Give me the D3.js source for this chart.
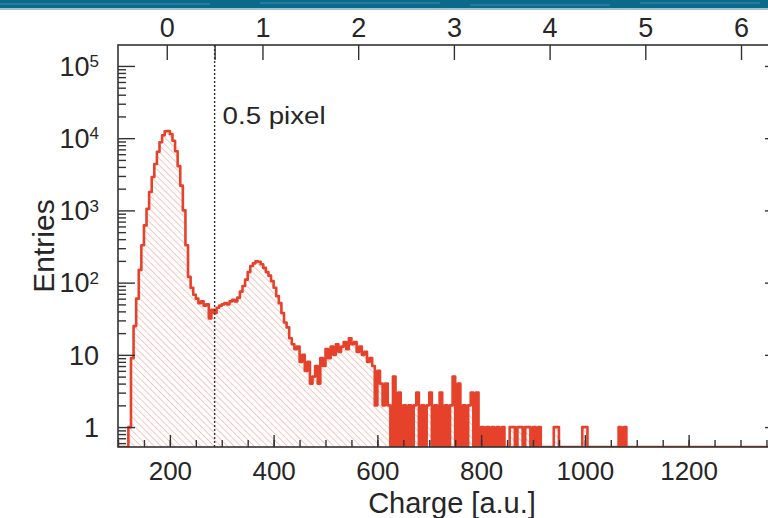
<!DOCTYPE html>
<html>
<head>
<meta charset="utf-8">
<script src="https://cdn.jsdelivr.net/npm/d3@7"></script>
<style>
  body { margin: 0; background: #fff; }
  text { font-family: "Liberation Sans", Arial, Helvetica, sans-serif; fill: #262626; }
</style>
</head>
<body>
<svg id="chart" width="768" height="518"></svg>
<script>
// Charge spectrum, log y. Bins are 5 a.u. wide starting at 100.
var binStart = 100;
var binWidth = 5;

// 100 .. 245
var countsPeak1 = [0, 0, 0, 0, 1, 9, 25, 60, 150, 330, 620, 1050, 1800, 2900, 4400,
                   6500, 8800, 11000, 12500, 12600, 11400, 9200, 6600, 4100, 2200, 1000, 330, 120, 85, 68];
// 250 .. 320
var countsValley = [60, 52, 55, 48, 50, 32, 42, 38, 45, 48, 50, 52, 50, 55, 58];
// 325 .. 445
var countsPeak2 = [55, 62, 75, 90, 110, 140, 170, 185, 198, 195, 180, 160, 140, 125, 105,
                   85, 65, 52, 38, 28, 24, 17, 14, 12, 13];
// 450 .. 615
var countsPeak3 = [8, 10, 6, 8, 4, 5, 7, 4, 9, 7, 12, 9, 13, 10, 14, 11, 13, 15, 12, 17,
                   14, 15, 11, 13, 10, 11, 8, 9, 7, 2, 6, 4, 2, 4];
// 620 .. 1080, nothing after that
var countsTail = [2, 0, 5, 0, 3, 0, 2, 0, 2, 0, 2, 3, 0, 2, 0, 2, 3, 0, 2, 0,
                  3, 0, 2, 0, 2, 5, 0, 4, 0, 2, 0, 2, 3, 0, 3, 0, 1, 0, 1, 0,
                  1, 0, 1, 0, 1, 0, 0, 1, 1, 0, 1, 1, 0, 1, 1, 0, 1, 0, 1, 0,
                  0, 0, 0, 0, 1, 1, 0, 0, 0, 0, 0, 0, 0, 0, 0, 1, 1, 0, 0, 0,
                  0, 0, 0, 0, 0, 0, 0, 0, 0, 1, 0, 1, 0];

var bottomTicks = [200, 400, 600, 800, 1000, 1200];
var topTicks = [0, 0.5, 1, 2, 3, 4, 5, 6];
var leftTicks = [1, 10, 100, 1000, 10000, 100000];
var leftLabels = [["1", ""], ["10", ""], ["10", "2"], ["10", "3"], ["10", "4"], ["10", "5"]];

// top axis in pixel units: charge = pedestal + n * chargePerPixel
var pedestal = 194;
var chargePerPixel = 184.5;
var cutPixel = 0.5;

var counts = [].concat(countsPeak1, countsValley, countsPeak2, countsPeak3, countsTail);

var svg = d3.select("#chart");
var L = 118, R = 782, T = 45, B = 447;

var x = d3.scaleLinear().domain([100, 1380]).range([L, R]);
var y = d3.scaleLog().domain([0.53, 1.95e5]).range([B, T]);
var xTop = d3.scaleLinear()
    .domain([(100 - pedestal) / chargePerPixel, (1380 - pedestal) / chargePerPixel])
    .range([L, R]);

// banner stripe at the very top
svg.append("rect").attr("x", 0).attr("y", 0).attr("width", 768).attr("height", 8).style("fill", "#0b6a8b");
[[0, 4, 210], [260, 3, 180], [470, 5, 140], [640, 3, 120]].forEach(function (s) {
    svg.append("line").attr("x1", s[0]).attr("x2", s[0] + s[2]).attr("y1", s[1]).attr("y2", s[1])
        .style("stroke", "#6aa6bb").style("stroke-width", 1).style("opacity", 0.6);
});
svg.append("rect").attr("x", 0).attr("y", 8).attr("width", 768).attr("height", 2).style("fill", "#0b6a8b").style("opacity", 0.4);

var defs = svg.append("defs");
defs.append("clipPath").attr("id", "frame")
    .append("rect").attr("x", L).attr("y", T).attr("width", R - L).attr("height", B - T);
var pat = defs.append("pattern").attr("id", "hatch")
    .attr("patternUnits", "userSpaceOnUse")
    .attr("width", 4.7).attr("height", 4.7)
    .attr("patternTransform", "rotate(-45)");
pat.append("line").attr("x1", 0).attr("y1", 0).attr("x2", 0).attr("y2", 4.7)
    .style("stroke", "#f1aaa0").style("stroke-width", 1.3);

// step vertices
function yv(n) { return n > 0 ? y(n) : B; }
var pts = [];
counts.forEach(function (n, i) {
    var x0 = binStart + i * binWidth;
    pts.push([x0, n], [x0 + binWidth, n]);
});
pts.push([1380, 0]);

var g = svg.append("g").attr("clip-path", "url(#frame)");
g.append("path")
    .attr("d", d3.area().x(function (d) { return x(d[0]); }).y0(B).y1(function (d) { return yv(d[1]); })(pts))
    .style("fill", "url(#hatch)");
g.append("path")
    .attr("d", d3.line().x(function (d) { return x(d[0]); }).y(function (d) { return yv(d[1]); })(pts))
    .style("fill", "none").style("stroke", "#e5412b").style("stroke-width", 2.6)
    .style("stroke-linejoin", "round");

// 0.5 pixel cut
svg.append("line")
    .attr("x1", xTop(cutPixel)).attr("x2", xTop(cutPixel)).attr("y1", T).attr("y2", B)
    .style("stroke", "#333").style("stroke-width", 1.4).style("stroke-dasharray", "2,2");
svg.append("text").attr("x", xTop(cutPixel) + 8).attr("y", 124)
    .attr("textLength", 103).attr("lengthAdjust", "spacingAndGlyphs")
    .style("font-size", "23px").text("0.5 pixel");

// axes
function styleAxis(sel) {
    sel.select(".domain").remove();
    sel.selectAll("line").style("stroke", "#333").style("stroke-width", 1.4);
}
var minorX = d3.range(100, 1400, 50);
svg.append("g").attr("transform", "translate(0," + B + ")")
    .call(d3.axisBottom(x).tickValues(minorX).tickSize(-7).tickFormat(""))
    .call(styleAxis);
svg.append("g").attr("transform", "translate(0," + B + ")")
    .call(d3.axisBottom(x).tickValues(bottomTicks).tickSize(-12).tickPadding(15).tickFormat(d3.format("d")))
    .call(styleAxis)
    .selectAll("text").style("font-size", "26px").style("fill", "#262626");

svg.append("g").attr("transform", "translate(0," + T + ")")
    .call(d3.axisTop(xTop).tickValues(topTicks).tickSize(-15).tickPadding(8)
        .tickFormat(function (d) { return d === cutPixel ? "" : d; }))
    .call(styleAxis)
    .selectAll("text").style("font-size", "27px").style("fill", "#262626");

var minorY = y.ticks().filter(function (v) { return leftTicks.indexOf(v) < 0; });
[[d3.axisLeft, L], [d3.axisRight, R]].forEach(function (a) {
    svg.append("g").attr("transform", "translate(" + a[1] + ",0)")
        .call(a[0](y).tickValues(minorY).tickSize(-8).tickFormat(""))
        .call(styleAxis);
    svg.append("g").attr("transform", "translate(" + a[1] + ",0)")
        .call(a[0](y).tickValues(leftTicks).tickSize(-17).tickFormat(""))
        .call(styleAxis);
});

var yl = svg.append("g").selectAll("text").data(leftTicks).enter().append("text")
    .attr("x", 99).attr("y", function (d) { return y(d); }).attr("dy", "0.36em")
    .attr("text-anchor", "end").style("font-size", "27px");
yl.append("tspan").text(function (d, i) { return leftLabels[i][0]; });
yl.append("tspan").attr("dy", "-0.5em").style("font-size", "17px")
    .text(function (d, i) { return leftLabels[i][1]; });

svg.append("rect").attr("x", L).attr("y", T).attr("width", R - L).attr("height", B - T)
    .style("fill", "none").style("stroke", "#333").style("stroke-width", 1.6);

// titles
svg.append("text").attr("transform", "translate(54,246) rotate(-90)")
    .attr("text-anchor", "middle").style("font-size", "30px").text("Entries");
svg.append("text").attr("x", 452).attr("y", 513)
    .attr("text-anchor", "middle").style("font-size", "29px").text("Charge [a.u.]");
</script>
</body>
</html>
